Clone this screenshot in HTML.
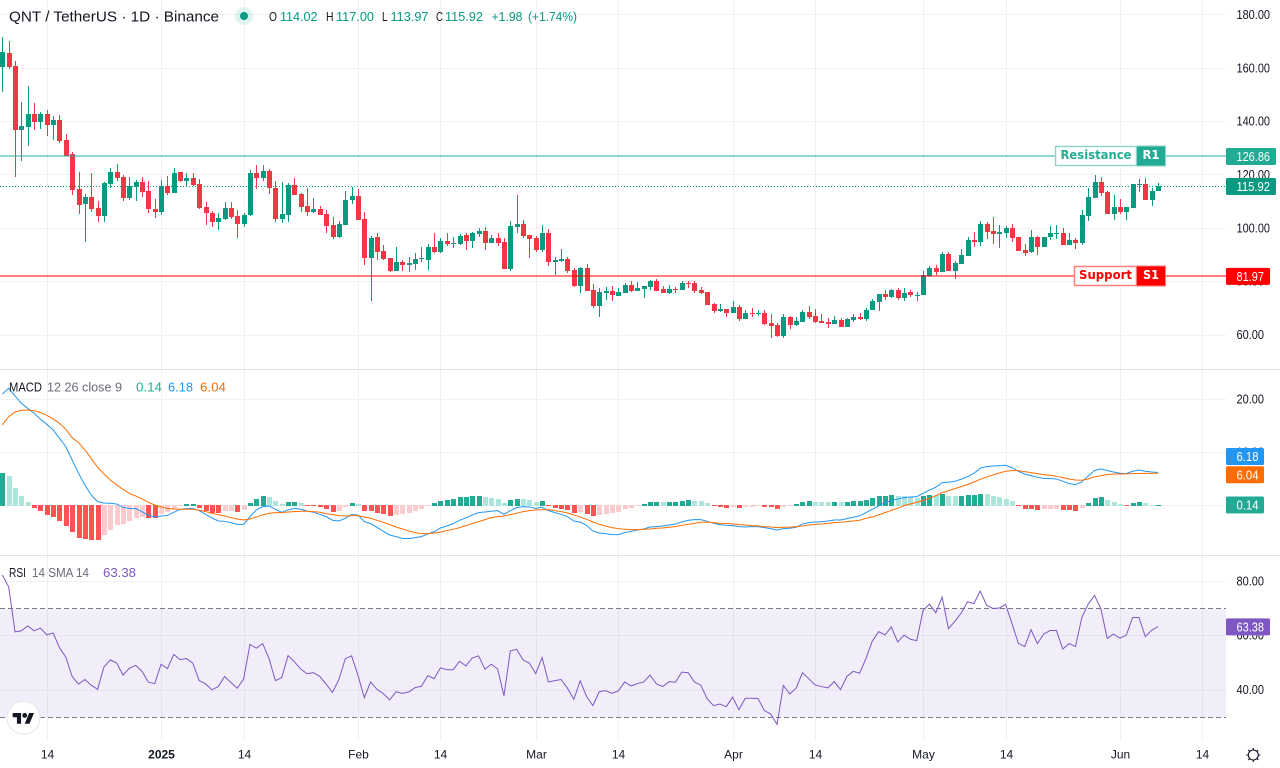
<!DOCTYPE html>
<html lang="en">
<head>
<meta charset="utf-8">
<title>QNT / TetherUS 1D Chart</title>
<style>
html,body{margin:0;padding:0;background:#fff;width:1280px;height:768px;overflow:hidden}
svg{display:block;font-family:"Liberation Sans",Arial,sans-serif}
</style>
</head>
<body>
<svg id="chart" xmlns="http://www.w3.org/2000/svg" width="1280" height="768" viewBox="0 0 1280 768">
  <defs>
    <clipPath id="plot-clip"><rect x="0" y="0" width="1226" height="740"/></clipPath>
  </defs>
  <rect x="0" y="0" width="1280" height="768" fill="#ffffff"/>
  <g id="grid"></g>
  <rect id="rsi-band" x="0" width="1226" fill="#7e57c2" fill-opacity="0.1"/>
  <g id="rsi-guides"></g>
  <line x1="0" x2="1280" y1="369.5" y2="369.5" stroke="#e0e3eb"/>
  <line x1="0" x2="1280" y1="555.5" y2="555.5" stroke="#e0e3eb"/>
  <g id="plots" clip-path="url(#plot-clip)">
    <line id="last-price-line" x1="0" x2="1226" stroke="#089981" stroke-width="1" stroke-dasharray="1 2"/>
    <g id="candles"></g>
    <g id="hist"></g>
    <path id="macd-line" fill="none" stroke="#2196f3" stroke-width="1"/>
    <path id="signal-line" fill="none" stroke="#ff6d00" stroke-width="1"/>
    <path id="rsi-line" fill="none" stroke="#7e57c2" stroke-width="1"/>
    <rect id="resistance-line" x="0" width="1226" height="2" fill="#22ab94" fill-opacity="0.5"/>
    <rect id="support-line" x="0" width="1226" height="2" fill="#ff0000" fill-opacity="0.5"/>
  </g>

  <g id="resistance-label">
    <rect x="1055.5" y="146.5" width="81" height="19" fill="#ffffff" stroke="#8fd5ca" stroke-width="1.5"/>
    <rect x="1136.5" y="146" width="29" height="20" fill="#22ab94" stroke="#8fd5ca" stroke-width="1"/>
    <text x="1060.5" y="159" font-family="'DejaVu Sans',sans-serif" font-weight="700" font-size="12" fill="#22ab94" textLength="71" lengthAdjust="spacingAndGlyphs">Resistance</text>
    <text x="1142.5" y="159" font-family="'DejaVu Sans',sans-serif" font-weight="700" font-size="12" fill="#ffffff" textLength="17" lengthAdjust="spacingAndGlyphs">R1</text>
  </g>
  <g id="support-label">
    <rect x="1074.5" y="266.5" width="62" height="19" fill="#ffffff" stroke="#ff7f7f" stroke-width="1.5"/>
    <rect x="1136.5" y="266" width="29" height="20" fill="#ff0000" stroke="#ff7f7f" stroke-width="1"/>
    <text x="1079" y="279" font-family="'DejaVu Sans',sans-serif" font-weight="700" font-size="12" fill="#ff0000" textLength="53" lengthAdjust="spacingAndGlyphs">Support</text>
    <text x="1143" y="279" font-family="'DejaVu Sans',sans-serif" font-weight="700" font-size="12" fill="#ffffff" textLength="16" lengthAdjust="spacingAndGlyphs">S1</text>
  </g>

  <g id="y-ticks" font-size="12.5" fill="#131722"></g>
  <g id="x-ticks" font-size="12" fill="#131722"></g>
  <g id="badges" font-size="12.5"></g>

  <g>
    <text x="9" y="21.5" font-size="14.5" fill="#131722" textLength="210" lengthAdjust="spacingAndGlyphs">QNT / TetherUS · 1D · Binance</text>
    <circle cx="244" cy="16" r="9" fill="#089981" fill-opacity="0.12"/>
    <circle cx="244" cy="16" r="4" fill="#089981"/>
    <g font-size="12.5">
      <text x="269" y="21" fill="#131722" textLength="8" lengthAdjust="spacingAndGlyphs">O</text>
      <text x="280" y="21" fill="#089981" textLength="37.5" lengthAdjust="spacingAndGlyphs">114.02</text>
      <text x="326" y="21" fill="#131722" textLength="7.5" lengthAdjust="spacingAndGlyphs">H</text>
      <text x="336" y="21" fill="#089981" textLength="38" lengthAdjust="spacingAndGlyphs">117.00</text>
      <text x="382" y="21" fill="#131722" textLength="5.5" lengthAdjust="spacingAndGlyphs">L</text>
      <text x="390.5" y="21" fill="#089981" textLength="38" lengthAdjust="spacingAndGlyphs">113.97</text>
      <text x="436" y="21" fill="#131722" textLength="7" lengthAdjust="spacingAndGlyphs">C</text>
      <text x="445" y="21" fill="#089981" textLength="38" lengthAdjust="spacingAndGlyphs">115.92</text>
      <text x="491.5" y="21" fill="#089981" textLength="31" lengthAdjust="spacingAndGlyphs">+1.98</text>
      <text x="528" y="21" fill="#089981" textLength="49" lengthAdjust="spacingAndGlyphs">(+1.74%)</text>
    </g>
    <text x="9" y="391.5" font-size="12.5" fill="#131722" textLength="33" lengthAdjust="spacingAndGlyphs">MACD</text>
    <text x="47" y="391.5" font-size="12.5" fill="#6a6d78" textLength="75" lengthAdjust="spacingAndGlyphs">12 26 close 9</text>
    <text x="136" y="391.5" font-size="12.5" fill="#22ab94" textLength="26" lengthAdjust="spacingAndGlyphs">0.14</text>
    <text x="168" y="391.5" font-size="12.5" fill="#2196f3" textLength="25" lengthAdjust="spacingAndGlyphs">6.18</text>
    <text x="200" y="391.5" font-size="12.5" fill="#ff6d00" textLength="26" lengthAdjust="spacingAndGlyphs">6.04</text>
    <text x="9" y="577" font-size="12.5" fill="#131722" textLength="17" lengthAdjust="spacingAndGlyphs">RSI</text>
    <text x="32" y="577" font-size="12.5" fill="#6a6d78" textLength="57" lengthAdjust="spacingAndGlyphs">14 SMA 14</text>
    <text x="103" y="577" font-size="12.5" fill="#7e57c2" textLength="33" lengthAdjust="spacingAndGlyphs">63.38</text>
  </g>

  <g>
    <circle cx="23.5" cy="717.7" r="16.5" fill="#ffffff" stroke="#e6e7ea" stroke-width="1.2"/>
    <g transform="translate(12.7,710.6) scale(0.6)" fill="#131722">
      <path d="M14 22H7V11H0V4h14v18zM28 22h-8l7.5-18h8L28 22z"/>
      <circle cx="20" cy="8" r="4"/>
    </g>
  </g>
  <g fill="none" stroke="#131722" stroke-width="1.1">
    <circle cx="1253.3" cy="755" r="5"/>
    <path d="M1253.3 748v2M1253.3 760v2M1246.3 755h2M1258.3 755h2M1248.3 750l1.3 1.3M1258.3 750l-1.3 1.3M1248.3 760l1.3-1.3M1258.3 760l-1.3-1.3"/>
  </g>
</svg>

<script>
const startDate = "2024-12-07";
const opens = [
160.6,165.6,160.9,136.9,138.1,142.9,140.0,142.9,138.7,140.6,
133.1,127.9,114.7,109.1,111.7,107.6,104.6,116.6,121.1,119.2,
111.4,115.5,117.4,114.0,107.2,106.1,115.9,113.2,121.1,117.7,
118.9,116.6,108.0,105.7,102.4,103.5,107.6,104.6,101.6,105.0,
120.7,118.9,121.5,115.1,103.5,105.0,116.2,112.9,108.4,106.1,
107.2,105.4,101.2,96.7,101.2,110.6,112.1,103.5,88.9,96.7,
91.5,88.9,84.0,87.4,86.2,86.6,88.5,88.1,93.0,91.1,
95.2,94.2,94.1,97.5,95.2,97.9,99.0,94.5,96.4,94.9,
84.7,100.5,101.6,97.5,96.4,91.9,98.2,87.4,87.7,88.5,
84.4,78.4,85.1,76.9,70.9,75.7,76.5,74.6,75.7,78.7,
76.5,77.2,78.0,80.2,77.2,75.7,77.4,76.9,79.5,79.5,
76.9,76.1,71.6,69.0,69.7,68.2,70.5,66.0,68.2,68.0,
68.2,64.5,63.7,59.6,66.7,63.7,64.9,68.6,67.1,65.2,
64.9,64.1,65.6,63.0,65.6,66.7,66.0,69.4,72.4,75.4,
74.2,76.9,73.9,76.1,74.6,75.0,82.1,85.1,83.6,90.4,
84.0,86.6,89.6,95.6,94.9,101.6,99.0,97.9,98.2,100.1,
96.7,91.9,91.1,96.7,93.0,96.7,98.0,98.2,93.7,95.6,
94.5,104.6,111.4,117.4,113.6,105.4,108.0,106.1,107.6,116.4,
116.6,110.6,114.02];
const closes = [
166.3,160.6,136.9,138.4,142.9,140.0,142.9,138.7,140.6,132.7,
127.2,114.4,108.7,111.7,107.2,104.6,117.0,121.1,118.9,111.4,
115.9,117.4,113.6,107.2,106.1,115.9,113.2,120.7,117.7,118.9,
116.2,107.6,105.7,102.4,103.9,107.6,104.2,101.6,105.0,120.7,
118.9,121.5,115.1,103.5,105.4,116.2,112.5,108.0,106.1,107.2,
105.0,100.9,96.7,101.6,110.6,112.1,103.1,88.9,96.4,91.1,
88.5,84.0,87.4,86.2,87.0,88.5,88.9,93.0,91.1,95.2,
94.1,94.5,97.1,95.2,98.2,99.0,94.5,96.4,94.5,84.7,
100.9,101.6,97.1,96.0,91.9,98.2,87.4,88.1,88.5,84.0,
78.4,85.1,76.5,70.9,76.1,76.5,75.0,76.1,78.7,76.5,
77.6,78.4,80.2,76.5,75.7,77.2,77.1,79.5,79.1,76.5,
75.7,71.2,69.0,69.7,68.2,70.5,66.0,68.2,68.0,68.2,
64.1,63.4,59.6,66.7,63.7,65.2,68.6,66.7,64.9,64.5,
64.1,65.6,63.0,66.0,66.7,66.0,69.4,72.7,75.4,74.2,
76.9,73.9,75.7,75.0,75.0,82.5,85.1,83.6,90.4,84.0,
87.0,90.0,95.6,94.9,101.6,98.6,97.9,98.6,100.1,96.4,
91.5,90.7,96.7,93.0,96.7,98.2,98.2,93.7,95.6,94.5,
105.0,111.7,117.4,113.2,105.4,108.0,106.1,108.0,116.6,116.7,
110.6,114.0,115.92];
const highs = [
171.9,170.3,162.8,147.4,153.4,147.0,143.6,144.4,142.1,142.5,
135.4,128.6,121.1,112.9,120.7,110.2,117.5,122.7,124.1,120.0,
119.2,118.1,119.2,117.7,111.0,118.1,119.6,122.6,121.1,120.7,
120.7,118.5,109.9,106.5,105.7,109.9,109.9,106.9,105.6,121.9,
123.7,123.7,122.2,117.7,117.4,117.0,118.9,113.2,115.1,111.4,
108.4,106.9,104.2,102.7,114.0,115.5,114.7,106.1,97.1,98.2,
93.7,88.9,93.0,88.1,89.2,90.7,93.0,94.1,98.2,96.4,
98.2,96.7,97.9,98.2,98.6,100.1,100.5,97.5,98.2,96.4,
102.7,112.5,103.1,97.5,97.1,101.2,99.7,89.2,92.2,89.2,
85.1,85.5,86.6,79.1,77.6,78.0,78.4,77.6,79.5,80.2,
79.9,78.4,80.6,81.0,78.4,78.7,78.0,80.2,80.2,80.2,
78.0,76.1,72.0,71.6,69.7,72.7,71.2,69.4,70.1,69.4,
69.4,67.9,64.5,67.9,67.1,66.7,69.4,70.9,69.7,67.9,
66.4,67.1,66.4,66.4,67.9,68.2,70.1,73.5,75.4,76.9,
77.2,77.6,77.6,76.9,76.1,84.0,85.9,86.2,91.1,91.1,
87.7,92.2,96.7,98.6,102.7,102.4,104.2,101.2,100.9,101.6,
96.7,94.1,99.4,97.1,96.7,100.9,101.2,100.1,98.2,96.4,
106.9,115.1,120.0,119.2,114.0,112.5,111.0,108.0,116.6,118.5,
118.9,115.1,117.0];
const lows = [
151.3,159.6,119.4,125.3,131.0,136.9,137.2,134.6,133.1,132.1,
127.1,112.5,105.4,94.9,106.1,102.4,102.4,115.1,117.7,110.2,
110.6,110.2,111.7,105.7,103.9,105.0,112.5,113.2,117.4,115.5,
115.9,107.2,101.2,100.5,99.4,103.1,103.5,96.4,100.5,104.6,
114.7,117.7,112.9,102.4,102.0,102.4,112.5,106.1,104.6,105.7,
105.0,98.2,96.0,96.4,101.2,109.1,103.1,86.2,72.7,88.0,
88.1,83.6,84.0,84.0,83.6,84.4,87.4,84.4,90.7,90.7,
93.4,92.6,93.7,91.9,92.6,96.7,91.9,94.5,93.4,84.7,
84.0,98.2,96.4,88.9,91.1,91.1,85.9,82.5,87.4,83.2,
78.0,75.7,76.5,70.1,66.7,73.1,72.7,74.6,75.7,76.1,
76.5,73.9,76.9,76.5,75.7,75.4,75.7,76.9,77.6,75.7,
75.4,71.2,68.2,68.6,66.7,68.2,65.2,66.0,66.7,67.1,
63.7,58.9,59.2,58.9,62.2,63.4,64.9,66.0,64.5,64.5,
62.6,64.1,63.0,63.0,64.9,65.6,65.2,69.4,69.0,73.1,
73.9,73.1,72.7,74.2,72.7,75.0,81.7,82.5,83.6,84.0,
81.0,86.6,89.6,93.0,93.4,96.0,94.1,92.6,96.4,94.9,
91.5,89.6,90.7,90.0,93.0,95.6,96.0,93.7,93.7,92.2,
93.7,102.7,111.4,112.1,105.4,103.1,105.4,103.1,107.6,113.6,
110.6,108.4,113.97];
const macdValues = [
21.01,22.08,20.63,19.25,18.30,17.36,16.23,15.28,14.21,12.64,
11.07,8.55,6.04,3.84,1.95,0.69,0.44,0.38,0.25,-0.38,
-0.57,-0.63,-1.20,-1.89,-2.20,-2.01,-1.89,-1.32,-0.75,-0.63,
-0.57,-1.01,-1.70,-2.39,-2.96,-3.02,-3.27,-3.59,-3.59,-2.14,
-0.88,-0.25,-0.13,-0.75,-1.32,-0.88,-0.57,-0.75,-1.07,-1.32,
-1.70,-2.14,-2.83,-2.96,-2.45,-1.76,-1.82,-3.08,-3.46,-4.15,
-4.91,-5.60,-5.91,-6.23,-6.29,-6.10,
-5.91,-5.41,-4.97,-4.28,-3.90,-3.46,-2.83,-2.39,-1.82,-1.38,
-1.26,-1.13,-1.01,-1.70,-1.01,-0.44,-0.25,-0.31,-0.57,-0.38,
-1.01,-1.38,-1.70,-2.14,-2.96,-3.15,-3.77,-4.84,-5.22,-5.35,
-5.54,-5.54,-5.16,-4.91,-4.66,-4.47,-4.09,-4.03,-3.90,-3.71,
-3.52,-3.15,-2.83,-2.71,-2.71,-3.02,-3.40,-3.65,-3.77,-3.84,
-4.03,-4.09,-4.03,-4.03,-4.21,-4.40,-4.66,-4.40,-4.34,-4.15,
-3.52,-3.27,-3.15,-3.08,-2.96,-2.77,
-2.77,-2.52,-2.26,-2.01,-1.38,-0.75,-0.13,0.50,0.88,1.20,
1.45,1.57,1.64,2.26,2.89,3.40,4.28,4.34,4.53,4.91,
5.41,6.04,6.98,7.30,7.42,7.49,7.55,7.11,6.42,5.91,
5.60,5.28,5.09,5.03,4.97,4.53,4.09,3.90,4.40,5.54,
6.54,6.86,6.54,6.29,6.04,5.98,6.42,6.67,6.42,6.29,6.18];
const signalValues = [
15.16,16.73,17.61,17.93,17.99,17.86,17.49,16.98,16.29,15.47,
14.34,12.77,11.83,10.44,8.87,7.17,5.91,4.78,3.84,3.02,
2.26,1.76,1.20,0.57,0.06,-0.31,-0.57,-0.69,-0.75,-0.75,
-0.75,-0.94,-1.20,-1.51,-1.76,-2.01,-2.33,-2.58,-2.77,-2.58,
-2.20,-1.82,-1.51,-1.38,-1.38,-1.26,-1.20,-1.13,-1.13,-1.20,
-1.32,-1.57,-1.76,-1.95,-2.01,-1.95,-1.95,-2.20,-2.45,-2.83,
-3.21,-3.65,-4.09,-4.47,-4.84,-5.16,
-5.35,-5.35,-5.22,-5.03,-4.78,-4.53,-4.21,-3.84,-3.46,-3.08,
-2.71,-2.33,-2.14,-2.01,-1.76,-1.51,-1.20,-1.01,-0.88,-0.82,
-0.82,-1.01,-1.20,-1.45,-1.82,-2.20,-2.64,-3.15,-3.59,-3.90,
-4.21,-4.40,-4.53,-4.59,-4.59,-4.53,-4.47,-4.34,-4.28,-4.15,
-4.03,-3.77,-3.59,-3.40,-3.21,-3.15,-3.27,-3.40,-3.40,-3.52,
-3.65,-3.71,-3.84,-3.90,-4.03,-4.09,-4.21,-4.15,-4.15,-4.03,
-3.90,-3.71,-3.59,-3.52,-3.40,-3.27,
-3.21,-3.08,-2.96,-2.83,-2.45,-2.20,-1.82,-1.38,-0.94,-0.57,
-0.06,0.25,0.57,0.88,1.32,1.82,2.39,2.77,3.15,3.52,
3.90,4.40,4.91,5.35,5.72,6.10,6.42,6.54,6.54,6.35,
6.16,5.98,5.79,5.66,5.47,5.22,4.97,4.78,4.72,4.97,
5.35,5.60,5.79,5.91,5.91,5.93,5.97,6.00,6.02,6.03,6.04];
const histValues = [
6.10,5.54,3.27,1.76,0.63,-0.50,-1.07,-1.89,-2.20,-2.96,
-3.90,-5.03,-6.16,-6.29,-6.54,-6.55,-5.60,-4.66,-3.71,-3.52,
-2.96,-2.39,-2.26,-2.39,-2.45,-1.64,-1.26,-0.63,-0.19,0.25,
0.30,-0.50,-1.01,-1.38,-1.51,-1.13,-1.07,-1.26,-0.88,0.44,
1.20,1.76,1.57,0.82,0.25,0.63,0.64,0.44,-0.06,-0.13,
-0.31,-0.69,-1.26,-1.07,-0.31,0.44,0.25,-1.07,-1.10,-1.45,
-1.64,-2.01,-1.82,-1.57,-1.45,-1.07,
-0.69,-0.06,0.44,0.82,1.01,1.20,1.57,1.60,1.76,1.78,
1.57,1.38,1.20,0.44,1.01,1.20,1.18,1.01,0.63,0.82,
-0.13,-0.50,-0.69,-0.88,-1.51,-1.26,-1.64,-2.01,-1.82,-1.64,
-1.51,-1.26,-0.69,-0.50,-0.13,0.25,0.63,0.64,0.63,0.65,
0.66,0.82,1.01,0.82,0.80,0.44,-0.13,-0.31,-0.50,-0.38,
-0.50,-0.31,-0.30,-0.19,-0.31,-0.32,-0.69,-0.31,-0.13,0.25,
0.63,0.82,0.63,0.62,0.61,0.63,
0.60,0.63,0.82,0.83,1.01,1.38,1.76,1.78,1.95,1.76,
1.75,1.57,1.38,1.76,1.95,1.93,2.14,1.76,1.75,1.78,
1.95,1.97,2.14,2.12,1.76,1.57,1.20,0.82,-0.19,-0.63,
-0.69,-0.88,-0.75,-0.63,-0.61,-0.88,-0.90,-1.07,-0.50,0.44,
1.38,1.57,1.01,0.63,0.25,-0.13,0.44,0.63,0.44,0.12,0.14];
const rsiValues = [
82.3,78.0,61.4,61.8,63.6,61.8,62.8,60.3,61.0,55.6,
52.1,45.0,42.2,43.9,41.8,40.3,48.5,51.1,50.0,45.5,
48.0,49.1,46.9,42.9,42.4,49.5,47.9,53.1,51.2,51.6,
49.9,43.5,42.3,40.1,41.3,45.0,42.8,40.7,44.1,56.8,
55.4,57.1,51.6,43.5,44.6,52.7,50.4,47.7,46.0,46.4,
45.0,42.2,39.2,43.9,51.5,52.6,45.5,37.2,43.0,40.3,
38.7,36.4,39.4,38.8,39.3,40.9,
41.4,45.3,44.2,48.2,47.5,47.5,50.6,48.9,51.8,52.6,
47.7,49.5,47.8,37.9,54.4,55.0,51.1,49.9,46.1,52.0,
43.0,43.5,43.9,40.7,36.6,43.4,37.7,34.3,39.4,39.8,
38.8,39.7,43.0,41.5,42.4,43.0,45.5,42.3,41.3,43.1,
42.9,46.6,46.4,43.0,41.8,36.8,34.3,34.9,33.9,37.4,
32.8,37.0,37.0,36.9,32.5,31.2,27.4,41.7,38.6,40.7,
46.4,44.2,41.9,41.3,40.8,43.1,40.2,
45.0,46.9,46.2,51.6,58.0,61.5,60.3,63.2,57.7,60.2,
58.7,58.2,69.3,71.6,68.4,74.2,62.6,65.3,68.3,72.5,
71.8,76.4,71.2,70.0,70.2,71.5,64.5,57.2,56.0,62.2,
57.1,60.6,61.9,61.9,55.1,57.1,56.0,66.7,71.6,74.8,
69.9,59.0,60.6,59.1,60.2,66.7,66.7,59.7,62.0,63.38];

const priceTicks = [180,160,140,120,100,80,60];
const macdTicks = [20,10,0];
const rsiTicks = [80,60,40];
const rsiGuides = [70,30];
const timeTickDates = ["2024-12-14","2025-01-01","2025-01-14","2025-02-01","2025-02-14","2025-03-01","2025-03-14","2025-04-01","2025-04-14","2025-05-01","2025-05-14","2025-06-01","2025-06-14"];
const timeTickLabels = ["14","2025","14","Feb","14","Mar","14","Apr","14","May","14","Jun","14"];
const resistanceLevel = 126.86;
const supportLevel = 81.97;
const lastPrice = 115.92;
const lastMacd = 6.18;
const lastSignal = 6.04;
const lastHist = 0.14;
const lastRsi = 63.38;

const SVGNS = "http://www.w3.org/2000/svg";
function make(tag, attrs, parent) {
  const node = document.createElementNS(SVGNS, tag);
  for (const k in attrs) node.setAttribute(k, attrs[k]);
  parent.appendChild(node);
  return node;
}
function indexX(i) { return 2.33 + 6.35 * i; }
function dateX(d) { return indexX((Date.parse(d) - Date.parse(startDate)) / 86400000); }
function priceY(p) { return 335 - (p - 60) * 2.6667; }
function macdY(v) { return 505.3 - v * 5.3; }
function rsiY(v) { return 608.5 + (70 - v) * 2.72; }
function labelWidth(s) { return s.length >= 6 ? 33.5 : s.length === 5 ? 27.5 : 22; }
function linePath(values, yFn) {
  return values.map(function (v, i) { return (i ? "L" : "M") + indexX(i).toFixed(2) + " " + yFn(v).toFixed(2); }).join("");
}

const grid = document.getElementById("grid");
const yTicks = document.getElementById("y-ticks");
const xTicks = document.getElementById("x-ticks");

function addHorizontal(value, yFn, pane) {
  const y = yFn(value);
  const line = make("line", {x1: 0, x2: 1226, y1: Math.floor(y) + 0.5, y2: Math.floor(y) + 0.5, stroke: "#f1f1f3"}, grid);
  
  
  const s = value.toFixed(2);
  const t = make("text", {x: 1236.5, y: y + 4, textLength: labelWidth(s), lengthAdjust: "spacingAndGlyphs"}, yTicks);
  t.textContent = s;
  
  
}
priceTicks.forEach(function (v) { addHorizontal(v, priceY); });
macdTicks.forEach(function (v) { addHorizontal(v, macdY); });
rsiTicks.forEach(function (v) { addHorizontal(v, rsiY); });

timeTickDates.forEach(function (d, i) {
  const x = Math.round(dateX(d)) + 0.5;
  const line = make("line", {x1: x, x2: x, y1: 0, y2: 740, stroke: "#f1f1f3"}, grid);
  
  
  const label = timeTickLabels[i];
  const t = make("text", {x: x, y: 758.5, "text-anchor": "middle"}, xTicks);
  t.textContent = label;
  
  
  if (label === "2025") t.setAttribute("font-weight", "700");
});

const band = document.getElementById("rsi-band");
band.setAttribute("y", rsiY(rsiGuides[0]));
band.setAttribute("height", rsiY(rsiGuides[1]) - rsiY(rsiGuides[0]));
const guideGroup = document.getElementById("rsi-guides");
rsiGuides.forEach(function (v) {
  const y = Math.floor(rsiY(v)) + 0.5;
  const g = make("line", {x1: 0, x2: 1226, y1: y, y2: y, stroke: "#787b86", "stroke-dasharray": "5 3"}, guideGroup);
  
  
});

const lastLineY = Math.round(priceY(lastPrice)) + 0.5;
const lastLine = document.getElementById("last-price-line");
lastLine.setAttribute("y1", lastLineY);
lastLine.setAttribute("y2", lastLineY);

const candleGroup = document.getElementById("candles");
opens.forEach(function (o, i) {
  const c = closes[i];
  const color = c >= o ? "#089981" : "#f23645";
  const px = Math.round(indexX(i));
  const hy = Math.round(priceY(highs[i]));
  const ly = Math.round(priceY(lows[i]));
  const top = Math.round(priceY(Math.max(o, c)));
  const bot = Math.round(priceY(Math.min(o, c)));
  const wick = make("rect", {x: px, y: hy, width: 1, height: Math.max(1, ly - hy), fill: color}, candleGroup);
  
  
  const body = make("rect", {x: px - 2, y: top, width: 5, height: Math.max(1, bot - top), fill: color}, candleGroup);
  
  
});

const histGroup = document.getElementById("hist");
histValues.forEach(function (v, i) {
  const prev = i ? histValues[i - 1] : v - 1;
  const rising = v >= prev;
  const color = v >= 0 ? (rising ? "#22ab94" : "#ace5dc") : (rising ? "#fccbcd" : "#ff5252");
  const px = Math.round(indexX(i));
  const y = Math.round(macdY(v));
  const top = v >= 0 ? y : 505;
  const bottom = v >= 0 ? 506 : Math.max(y, 506);
  const bar = make("rect", {x: px - 2, y: top, width: 5, height: Math.max(1, bottom - top), fill: color}, histGroup);
  
  
});

document.getElementById("macd-line").setAttribute("d", linePath(macdValues, macdY));
document.getElementById("signal-line").setAttribute("d", linePath(signalValues, macdY));
document.getElementById("rsi-line").setAttribute("d", linePath(rsiValues, rsiY));

const resY = Math.floor(priceY(resistanceLevel));
const supY = Math.floor(priceY(supportLevel));
document.getElementById("resistance-line").setAttribute("y", resY - 1);
document.getElementById("support-line").setAttribute("y", supY - 1);
document.getElementById("resistance-label").setAttribute("transform", "translate(0," + (resY - 156) + ")");
document.getElementById("support-label").setAttribute("transform", "translate(0," + (supY - 276) + ")");

const badgeGroup = document.getElementById("badges");
function addBadge(centerY, value, fill, boxW) {
  const s = value.toFixed(2);
  const box = make("rect", {x: 1226, y: centerY - 8.5, width: boxW, height: 17, rx: 1.5, fill: fill}, badgeGroup);
  
  
  const t = make("text", {x: 1236.5, y: centerY + 4.5, fill: "#ffffff", textLength: labelWidth(s), lengthAdjust: "spacingAndGlyphs"}, badgeGroup);
  t.textContent = s;
  
  
}
addBadge(priceY(resistanceLevel) - 0.2, resistanceLevel, "#22ab94", 50);
addBadge(priceY(lastPrice) + 0.6, lastPrice, "#089981", 50);
addBadge(priceY(supportLevel), supportLevel, "#ff0000", 44);
addBadge(macdY(lastMacd) - 16, lastMacd, "#2196f3", 38);
addBadge(macdY(lastSignal) + 1.5, lastSignal, "#ff6d00", 38);
addBadge(macdY(lastHist) + 0.5, lastHist, "#22ab94", 38);
addBadge(rsiY(lastRsi) + 0.4, lastRsi, "#7e57c2", 44);
</script>
</body>
</html>
